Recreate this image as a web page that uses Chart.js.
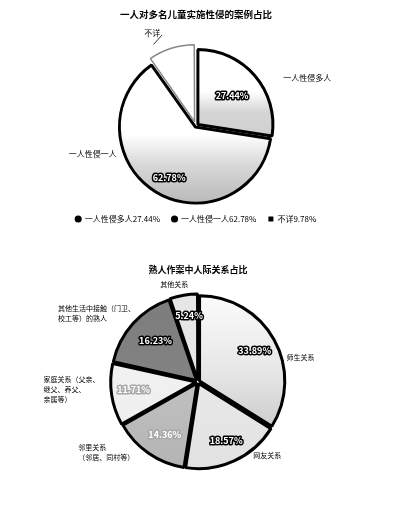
<!DOCTYPE html>
<html>
<head>
<meta charset="utf-8">
<script src="https://cdn.jsdelivr.net/npm/chart.js@4.4.0/dist/chart.umd.min.js"></script>
<style>
  body { margin: 0; background: #fff; width: 400px; height: 514px; overflow: hidden; }
  .box { position: absolute; left: 0; width: 400px; }
  #box1 { top: 0; height: 240px; }
  #box2 { top: 240px; height: 274px; }
</style>
</head>
<body>
<div class="box" id="box1"><canvas id="chart1"></canvas></div>
<div class="box" id="box2"><canvas id="chart2"></canvas></div>
<script>
// chart 1 data
const title1 = '一人对多名儿童实施性侵的案例占比';
const labels1 = ['一人性侵多人', '一人性侵一人', '不详'];
const values1 = [27.44, 62.78, 9.78];

// chart 2 data
const title2 = '熟人作案中人际关系占比';
const labels2 = ['师生关系', '网友关系', '邻里关系', '家庭关系', '其他生活中接触的熟人', '其他关系'];
const values2 = [33.89, 18.57, 14.36, 11.71, 16.23, 5.24];
const callouts2 = [
  ['师生关系'],
  ['网友关系'],
  ['邻里关系', '（邻居、同村等）'],
  ['家庭关系（父亲、', '继父、养父、', '亲属等）'],
  ['其他生活中接触（门卫、', '校工等）的熟人'],
  ['其他关系']
];

const FONT = '"Noto Sans CJK SC", "Noto Sans", sans-serif';

function pct(v) { return v.toFixed(2) + '%'; }

// vertical gradient across the pie for each slice
function gradFill(stopsList) {
  return function (c) {
    const chart = c.chart;
    const a = chart.chartArea;
    const stops = stopsList[c.dataIndex];
    if (!a) return stops[0][1];
    const r = chart.options.radius;
    const cy = (a.top + a.bottom) / 2;
    const g = chart.ctx.createLinearGradient(0, cy - r, 0, cy + r);
    stops.forEach(s => g.addColorStop(s[0], s[1]));
    return g;
  };
}

// draws callouts and inner percentages around the arcs
const pieLabels = {
  id: 'pieLabels',
  afterDatasetsDraw(chart, args, opts) {
    const ctx = chart.ctx;
    const meta = chart.getDatasetMeta(0);
    const ds = chart.data.datasets[0];
    meta.data.forEach((arc, i) => {
      const p = arc.getProps(['x', 'y', 'startAngle', 'endAngle', 'outerRadius']);
      const off = Array.isArray(ds.offset) ? ds.offset[i] : (ds.offset || 0);
      const mid = (p.startAngle + p.endAngle) / 2;
      const cx = p.x + Math.cos(mid) * off;
      const cy = p.y + Math.sin(mid) * off;
      const at = (f, r) => {
        const a = p.startAngle + f * (p.endAngle - p.startAngle);
        return [cx + Math.cos(a) * r * p.outerRadius, cy + Math.sin(a) * r * p.outerRadius];
      };
      ctx.save();
      ctx.textBaseline = 'middle';
      // inner percentage
      const inn = opts.inner[i];
      if (inn) {
        const [x, y] = at(inn.f, inn.r);
        ctx.font = 'bold ' + opts.innerSize + 'px ' + FONT;
        ctx.textAlign = 'center';
        ctx.lineJoin = 'round';
        ctx.lineWidth = 3;
        ctx.strokeStyle = inn.stroke || '#000';
        ctx.strokeText(opts.innerText[i], x, y);
        ctx.fillStyle = '#fff';
        ctx.fillText(opts.innerText[i], x, y);
      }
      // outer callout
      const out = opts.outer[i];
      if (out) {
        const [x, y] = at(out.f, out.r);
        const lines = opts.outerText[i];
        const lh = opts.outerSize + 3;
        ctx.font = opts.outerSize + 'px ' + FONT;
        ctx.fillStyle = '#000';
        const w = Math.max(...lines.map(l => ctx.measureText(l).width));
        let left = x;
        if (out.align === 'right') left = x - w;
        if (out.align === 'center') left = x - w / 2;
        ctx.textAlign = 'left';
        const top = y - (lines.length - 1) * lh / 2;
        lines.forEach((l, k) => ctx.fillText(l, left, top + k * lh));
        if (out.line) {
          const [lx, ly] = at(out.line.f, out.line.r);
          ctx.strokeStyle = '#333';
          ctx.lineWidth = 1;
          ctx.beginPath();
          ctx.moveTo(left + w + 2, y + 2);
          ctx.lineTo(lx, ly);
          ctx.stroke();
        }
      }
      ctx.restore();
    });
  }
};

Chart.register(pieLabels);

// chart 1
new Chart(document.getElementById('chart1'), {
  type: 'pie',
  data: {
    labels: labels1,
    datasets: [{
      data: values1,
      backgroundColor: gradFill([
        [[0, '#fff'], [0.28, '#fff'], [0.42, '#d4d4d4'], [1, '#c8c8c8']],
        [[0, '#fff'], [0.55, '#fff'], [0.75, '#d8d8d8'], [1, '#bababa']],
        [[0, '#fff'], [1, '#fff']]
      ]),
      borderColor: ['#000', '#000', '#888'],
      borderWidth: [3, 3, 1.5],
      offset: [10, 4, 19]
    }]
  },
  options: {
    responsive: true,
    maintainAspectRatio: false,
    animation: false,
    radius: 75,
    layout: { padding: { left: 0, right: 8, top: 0, bottom: 7 } },
    plugins: {
      tooltip: { enabled: false },
      title: {
        display: true,
        text: title1,
        color: '#000',
        font: { family: FONT, size: 9.5, weight: 'bold' },
        padding: { top: 9, bottom: 29 }
      },
      legend: {
        position: 'bottom',
        labels: {
          color: '#000',
          font: { family: FONT, size: 8 },
          usePointStyle: true,
          boxWidth: 5,
          boxHeight: 5,
          padding: 12,
          generateLabels: () => labels1.map((l, i) => ({
            text: l + pct(values1[i]),
            fillStyle: '#000',
            strokeStyle: '#000',
            lineWidth: 0,
            pointStyle: i === 2 ? 'rect' : 'circle',
            hidden: false,
            index: i
          }))
        }
      },
      pieLabels: {
        innerSize: 9,
        outerSize: 8,
        innerText: values1.map(pct),
        outerText: labels1.map(l => [l]),
        inner: [{ f: 0.5, r: 0.5 }, { f: 0.48, r: 0.72 }, null],
        outer: [
          { f: 0.63, r: 1.2, align: 'left' },
          { f: 0.68, r: 1.08, align: 'right' },
          { f: 0.38, r: 1.08, align: 'right', line: { f: 0.15, r: 0.98 } }
        ]
      }
    }
  }
});

// chart 2
new Chart(document.getElementById('chart2'), {
  type: 'pie',
  data: {
    labels: labels2,
    datasets: [{
      data: values2,
      backgroundColor: gradFill([
        [[0, '#fbfbfb'], [0.45, '#e6e6e6'], [0.75, '#cecece'], [1, '#c6c6c6']],
        [[0, '#eeeeee'], [1, '#e2e2e2']],
        [[0, '#cccccc'], [1, '#b4b4b4']],
        [[0, '#f4f4f4'], [1, '#ededed']],
        [[0, '#7c7c7c'], [1, '#8a8a8a']],
        [[0, '#e6e6e6'], [1, '#e6e6e6']]
      ]),
      borderColor: '#000',
      borderWidth: 3,
      offset: [7, 7, 6, 7, 8, 7]
    }]
  },
  options: {
    responsive: true,
    maintainAspectRatio: false,
    animation: false,
    radius: 85,
    layout: { padding: { left: 0, right: 4, top: 0, bottom: 33 } },
    plugins: {
      tooltip: { enabled: false },
      legend: { display: false },
      title: {
        display: true,
        text: title2,
        color: '#000',
        font: { family: FONT, size: 9, weight: 'bold' },
        padding: { top: 24, bottom: 8 }
      },
      pieLabels: {
        innerSize: 9,
        outerSize: 7,
        innerText: values2.map(pct),
        outerText: callouts2,
        inner: [
          { f: 0.5, r: 0.68 },
          { f: 0.48, r: 0.68 },
          { f: 0.45, r: 0.66, stroke: '#a8a8a8' },
          { f: 0.55, r: 0.68, stroke: '#a8a8a8' },
          { f: 0.54, r: 0.6 },
          { f: 0.6, r: 0.7 }
        ],
        outer: [
          { f: 0.62, r: 1.0, align: 'left' },
          { f: 0.3, r: 1.0, align: 'left' },
          { f: 0.65, r: 1.05, align: 'right' },
          { f: 0.6, r: 1.08, align: 'right' },
          { f: 0.6, r: 1.0, align: 'right' },
          { f: 0.26, r: 1.1, align: 'center' }
        ]
      }
    }
  }
});
</script>
</body>
</html>
